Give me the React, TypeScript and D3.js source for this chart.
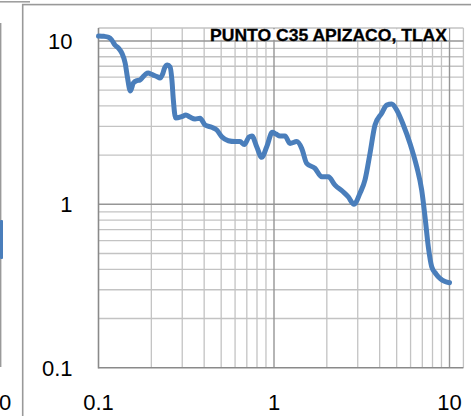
import React from "react";
import * as d3 from "d3";

const W = 471;
const H = 416;

const title = "PUNTO C35 APIZACO, TLAX";

// Period (x) and spectral value (y)
const periods = [
  0.1, 0.1075, 0.114, 0.119, 0.124, 0.13, 0.136, 0.142, 0.146, 0.152,
  0.158, 0.166, 0.172, 0.179, 0.186, 0.192, 0.199, 0.205, 0.215, 0.224,
  0.232, 0.238, 0.247, 0.256, 0.262, 0.267, 0.275, 0.298, 0.315, 0.332,
  0.355, 0.379, 0.405, 0.442, 0.472, 0.504, 0.549, 0.6, 0.64, 0.677,
  0.72, 0.749, 0.797, 0.851, 0.909, 0.978, 1.027, 1.082, 1.155, 1.234,
  1.347, 1.438, 1.536, 1.713, 1.87, 2.039, 2.227, 2.483, 2.651, 2.856,
  3.09, 3.3, 3.524, 3.763, 4.109, 4.387, 4.685, 5.002, 5.457, 5.956,
  6.503, 6.944, 7.251, 7.572, 7.917, 8.376, 8.828, 9.428, 10,
];
const values = [
  10.72, 10.67, 10.52, 10.13, 9.44, 9.05, 8.4, 7.29, 6.04, 4.94,
  5.53, 5.72, 5.76, 6.01, 6.27, 6.36, 6.27, 6.18, 6.06, 5.93,
  6.27, 6.83, 7.12, 6.92, 5.76, 4.35, 3.37, 3.44, 3.52, 3.42,
  3.33, 3.36, 3.06, 2.96, 2.85, 2.59, 2.45, 2.42, 2.42, 2.32,
  2.58, 2.62, 2.25, 1.94, 2.25, 2.76, 2.69, 2.62, 2.62, 2.36,
  2.42, 2.2, 1.78, 1.66, 1.475, 1.475, 1.31, 1.19, 1.11, 1.0,
  1.17, 1.41, 2.05, 3.06, 3.61, 4.05, 4.11, 3.78, 3.06, 2.36,
  1.7, 1.22, 0.84, 0.55, 0.415, 0.375, 0.352, 0.337, 0.331,
];

const xTickValues = [0.1, 1, 10];
const xTickLabels = ["0.1", "1", "10"];
const yTickValues = [0.1, 1, 10];
const yTickLabels = ["0.1", "1", "10"];
const minorMultipliers = [2, 3, 4, 5, 6, 7, 8, 9];
const decades = [0.1, 1];
const axisMin = 0.1;
const axisMax = 12;

const FONT = "'Liberation Sans', Arial, sans-serif";

export default function App() {
  const x = d3.scaleLog().domain([axisMin, axisMax]).range([98.5, 463.4]);
  const y = d3.scaleLog().domain([axisMin, axisMax]).range([367.7, 28]);

  const minors: number[] = [];
  decades.forEach((d) => minorMultipliers.forEach((m) => minors.push(d * m)));

  const pts = periods.map((p, i) => [x(p), y(values[i])] as [number, number]);
  const line = d3.line().curve(d3.curveMonotoneX)(pts) || "";

  const [x0, x1] = x.range();
  const [y0, y1] = y.range();

  return (
    <svg
      width={W}
      height={H}
      style={{ position: "absolute", left: 0, top: 0, background: "#fff" }}
      fontFamily={FONT}
    >
      <rect x={0} y={0} width={W} height={H} fill="#fff" />
      {/* fragment of neighbouring chart */}
      <line x1={0} x2={30} y1={1.8} y2={1.8} stroke="#9a9a9a" strokeWidth={1.5} />
      <line x1={0.7} x2={0.7} y1={23} y2={367} stroke="#9a9a9a" strokeWidth={1.4} />
      <rect x={0} y={220} width={3} height={39} rx={1} fill="#4A7EBB" />
      <text x={-1} y={410} fontSize={22} fill="#000">0</text>

      {/* chart border */}
      <rect x={22.7} y={4.6} width={W} height={H} fill="#fff" stroke="#999" strokeWidth={1.6} />

      {/* minor gridlines */}
      {minors.map((v) => (
        <line key={"vx" + v} x1={x(v)} x2={x(v)} y1={y1} y2={y0} stroke="#c3c3c3" strokeWidth={1.3} />
      ))}
      {minors.map((v) => (
        <line key={"hy" + v} x1={x0} x2={x1} y1={y(v)} y2={y(v)} stroke="#c3c3c3" strokeWidth={1.3} />
      ))}
      {/* plot border top/right */}
      <line x1={x0} x2={x1} y1={y1} y2={y1} stroke="#c3c3c3" strokeWidth={1.3} />
      <line x1={x1} x2={x1} y1={y1} y2={y0} stroke="#c3c3c3" strokeWidth={1.3} />
      {/* major gridlines */}
      {[1, 10].map((v) => (
        <line key={"mx" + v} x1={x(v)} x2={x(v)} y1={y1} y2={y0} stroke="#969696" strokeWidth={1.4} />
      ))}
      {[1, 10].map((v) => (
        <line key={"my" + v} x1={x0} x2={x1} y1={y(v)} y2={y(v)} stroke="#969696" strokeWidth={1.4} />
      ))}
      {/* axes */}
      <line x1={x0} x2={x0} y1={y1} y2={y0 + 0.7} stroke="#8a8a8a" strokeWidth={1.6} />
      <line x1={x0} x2={x1} y1={y0} y2={y0} stroke="#8a8a8a" strokeWidth={1.6} />

      {/* title box */}
      <rect x={206} y={29.3} width={243} height={10.4} fill="#fff" />
      <text
        x={210}
        y={40.5}
        fontSize={17}
        fontWeight="bold"
        fill="#000"
        stroke="#000"
        strokeWidth={0.3}
        textLength={237}
        lengthAdjust="spacingAndGlyphs"
      >
        {title}
      </text>

      {/* tick labels */}
      {yTickValues.map((v, i) => (
        <text key={"yl" + v} x={72.5} y={y(v) + 8} fontSize={22} textAnchor="end" fill="#000">
          {yTickLabels[i]}
        </text>
      ))}
      {xTickValues.map((v, i) => (
        <text key={"xl" + v} x={x(v)} y={410} fontSize={22} textAnchor="middle" fill="#000">
          {xTickLabels[i]}
        </text>
      ))}

      {/* series */}
      <path d={line} fill="none" stroke="#4A7EBB" strokeWidth={5} strokeLinejoin="round" strokeLinecap="round" />
    </svg>
  );
}
